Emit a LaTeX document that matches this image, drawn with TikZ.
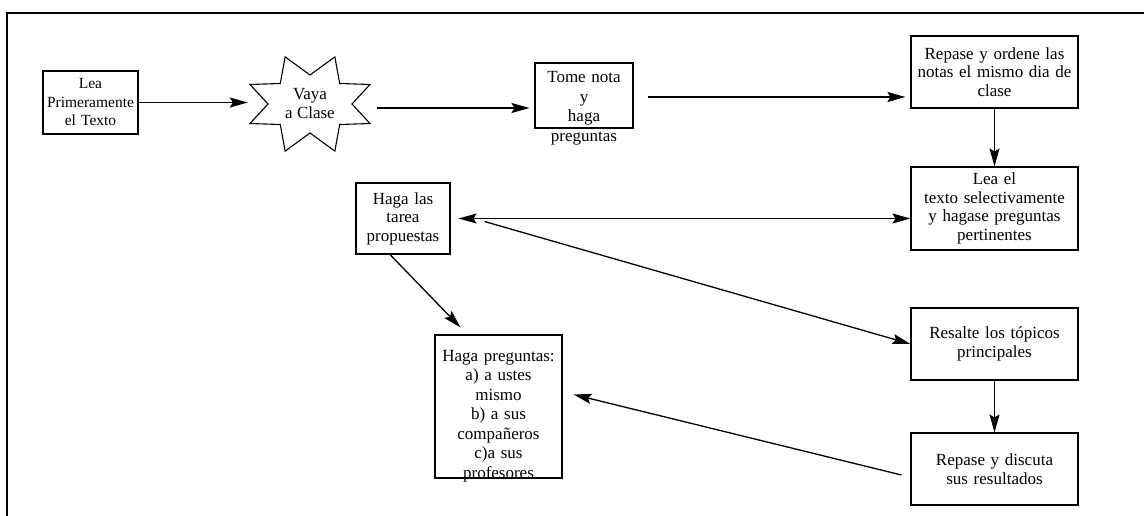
\documentclass[tikz,border=0pt]{standalone}
\usepackage{fontspec}
\setmainfont{Liberation Serif}
\usetikzlibrary{arrows.meta,positioning}
\tikzset{
    bx/.style n args={2}{draw, line width=1.1pt, inner sep=0pt,
        minimum width=#1, minimum height=#2, text width=#1, align=center,
        font=\fontsize{17}{18.5}\selectfont},
    fl/.style={line width=1.3pt, -{Stealth[length=18pt,width=10pt,inset=3pt]}},
    fll/.style={line width=1.3pt, {Stealth[length=18pt,width=10pt,inset=3pt]}-{Stealth[length=18pt,width=10pt,inset=3pt]}}
}
\begin{document}
\begin{tikzpicture}[x=1pt,y=-1pt]
    \useasboundingbox (0,0) rectangle (1144,516);
    % frame
    \draw[line width=1.8pt] (7,516) -- (7,13) -- (1144,13);
    % boxes
    \node[bx={95pt}{63pt}, font=\fontsize{15.5}{18.5}\selectfont] (lea) at (90.5,102.5) {Lea\\Primeramente\\el Texto};
    \node[minimum width=124pt, minimum height=96pt, inner sep=0pt, align=center,
        font=\fontsize{17}{19}\selectfont] (clase) at (310,104) {Vaya\\a Clase};
    \draw[line width=1.1pt, shift={(clase.center)}] (0:42 and 29)
        \foreach \a in {22.5,67.5,...,337.5} { -- (\a:65 and 51) -- (\a+22.5:42 and 29) } -- cycle;
    \node[bx={98pt}{65pt}, text height=20pt, text depth=45pt, font=\fontsize{17}{19.5}\selectfont] (tome) at (584,95.5) {Tome nota\\y\\haga\\preguntas};
    \node[bx={167pt}{72pt}] (repase) at (994.5,72) {Repase y ordene las\\notas el mismo dia de\\clase};
    \node[bx={167pt}{83pt}] (leael) at (994.5,208.5) {Lea el\\texto selectivamente\\y hagase preguntas\\pertinentes};
    \node[bx={94pt}{71pt}] (hagalas) at (403,218.5) {Haga las\\tarea\\propuestas};
    \node[bx={167pt}{72pt}] (resalte) at (994.5,344) {Resalte los tópicos\\principales};
    \node[bx={167pt}{72pt}] (repdisc) at (994.5,469) {Repase y discuta\\sus resultados};
    \node[bx={127pt}{143pt}, text height=26pt, text depth=117pt, font=\fontsize{17}{19.5}\selectfont] (hagapreg) at (498.5,406.5)
        {Haga preguntas:\\a) a ustes\\mismo\\b) a sus\\compañeros\\c)a sus\\profesores};
    % connectors
    \draw[fl] (lea.east) -- (clase.west |- lea.east);
    \draw[fl, shorten >=5pt] ([xshift=5pt,yshift=-4pt]clase.east) coordinate (c1) -- (tome.west |- c1);
    \draw[fl, shorten >=5pt] ([xshift=14pt,yshift=-1.5pt]tome.east) coordinate (c2) -- (repase.west |- c2);
    \draw[fl] (repase) -- (leael);
    \draw[fll, shorten <=8pt] (hagalas.east) -- (leael.west |- hagalas.east);
    \draw[fl] ([xshift=34pt,yshift=-3pt]hagalas.east) -- (resalte.west);
    \draw[fl] (resalte) -- (repdisc);
    \draw[fl] ([xshift=-9pt,yshift=-6pt]repdisc.west) -- ([xshift=11pt,yshift=12pt]hagapreg.east);
    \draw[fl] ([xshift=-13pt]hagalas.south) -- ([xshift=-38pt,yshift=7pt]hagapreg.north);
\end{tikzpicture}
\end{document}
